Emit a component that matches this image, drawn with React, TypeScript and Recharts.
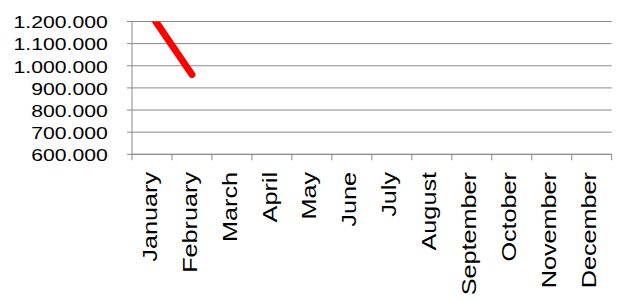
import { CartesianGrid, Line, LineChart, XAxis, YAxis } from "recharts";

const months = [
  "January",
  "February",
  "March",
  "April",
  "May",
  "June",
  "July",
  "August",
  "September",
  "October",
  "November",
  "December",
];
const sales: (number | null)[] = [1225000, 960000, null, null, null, null, null, null, null, null, null, null];
const yTicks = [600000, 700000, 800000, 900000, 1000000, 1100000, 1200000];

const data = months.map((m, i) => ({ month: m, value: sales[i] }));

const WIDTH = 619;
const HEIGHT = 300;
const MARGIN = { top: 21.5, right: 7.3, bottom: 0, left: 0 };
const Y_AXIS_W = 132;
const X_AXIS_H = 145.7;
const PLOT_BOTTOM = HEIGHT - MARGIN.bottom - X_AXIS_H;
const BAND = (WIDTH - MARGIN.left - MARGIN.right - Y_AXIS_W) / months.length;
const GRAY = "#8a8a8a";
const FONT = "'Liberation Sans', Arial, sans-serif";

function formatThousands(v: number): string {
  return String(v).replace(/\B(?=(\d{3})+(?!\d))/g, ".");
}

function YTick({ x, y, payload }: { x?: number; y?: number; payload?: { value: number } }) {
  if (x == null || y == null || !payload) return null;
  return (
    <text
      transform={`translate(${x},${y + 6.8}) scale(1.3,1)`}
      textAnchor="end"
      fontFamily={FONT}
      fontSize={16.3}
      fill="#000"
    >
      {formatThousands(payload.value)}
    </text>
  );
}

function XTick({ x, payload, index }: { x?: number; payload?: { value: string }; index?: number }) {
  if (x == null || !payload) return null;
  const last = index === months.length - 1;
  return (
    <g>
      <line x1={x - BAND / 2} x2={x - BAND / 2} y1={PLOT_BOTTOM} y2={PLOT_BOTTOM + 6} stroke={GRAY} />
      {last && (
        <line x1={x + BAND / 2} x2={x + BAND / 2} y1={PLOT_BOTTOM} y2={PLOT_BOTTOM + 6} stroke={GRAY} />
      )}
      <g transform={`translate(${x + 4.6},${PLOT_BOTTOM + 17.7})`}>
        <text transform="rotate(-90) scale(1.2,1)" textAnchor="end" fontFamily={FONT} fontSize={21} fill="#000">
          {payload.value}
        </text>
      </g>
    </g>
  );
}

export default function App() {
  return (
    <div style={{ position: "absolute", left: 0, top: 0, width: WIDTH, height: HEIGHT, background: "#fff" }}>
      <LineChart width={WIDTH} height={HEIGHT} data={data} margin={MARGIN}>
        <CartesianGrid vertical={false} stroke={GRAY} strokeWidth={1} />
        <XAxis
          dataKey="month"
          interval={0}
          height={X_AXIS_H}
          padding={{ left: BAND / 2, right: BAND / 2 }}
          axisLine={{ stroke: GRAY }}
          tickLine={false}
          tick={<XTick />}
        />
        <YAxis
          width={Y_AXIS_W}
          domain={[600000, 1200000]}
          ticks={yTicks}
          interval={0}
          allowDataOverflow
          axisLine={{ stroke: GRAY }}
          tickLine={{ stroke: GRAY }}
          tickSize={5}
          tickMargin={19.2}
          tick={<YTick />}
        />
        <Line
          dataKey="value"
          stroke="#ff0000"
          strokeWidth={7}
          strokeLinecap="round"
          dot={false}
          activeDot={false}
          connectNulls={false}
          isAnimationActive={false}
        />
      </LineChart>
    </div>
  );
}
